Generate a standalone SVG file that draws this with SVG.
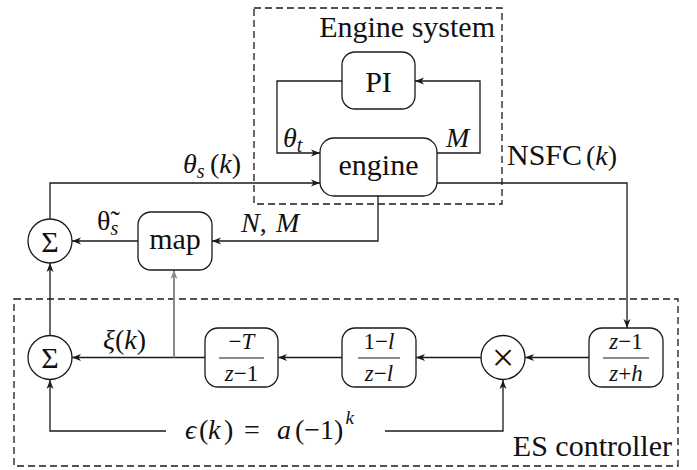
<svg xmlns="http://www.w3.org/2000/svg" width="697" height="470" viewBox="0 0 697 470">
  <style>
    .frame { fill: none; stroke: #1a1a1a; stroke-width: 1.3; stroke-dasharray: 7 4; }
    .blk { fill: #fff; stroke: #1a1a1a; stroke-width: 1.3; }
    .wire { fill: none; stroke: #1a1a1a; stroke-width: 1.3; }
    .wire.arr { marker-end: url(#tip); }
    .grey { fill: none; stroke: #8a8a8a; stroke-width: 2; marker-end: url(#tipGrey); }
    .bar { stroke: #1a1a1a; stroke-width: 1.1; }
    text { fill: #111; }
    .t30 { font-size: 30px; }
    .lbl { font-size: 28px; }
    .frac { font-size: 23px; text-anchor: middle; }
    .i { font-style: italic; }
    .mid { text-anchor: middle; }
    .end { text-anchor: end; }
  </style>
  <defs>
    <marker id="tip" viewBox="-10 -5 11 10" markerWidth="11" markerHeight="10" refX="0" refY="0" orient="auto" markerUnits="userSpaceOnUse">
      <path d="M0,0 L-9,-3.5 L-6.5,0 L-9,3.5 Z" fill="#1a1a1a"/>
    </marker>
    <marker id="tipGrey" viewBox="-10 -5 11 10" markerWidth="11" markerHeight="10" refX="0" refY="0" orient="auto" markerUnits="userSpaceOnUse">
      <path d="M0,0 L-9,-3.5 L-6.5,0 L-9,3.5 Z" fill="#8a8a8a"/>
    </marker>
  </defs>

  <g font-family="'Liberation Serif', 'Times New Roman', serif">
  <!-- subsystem frames -->
  <g id="engine-system">
    <rect class="frame" x="254" y="8" width="248" height="196"/>
    <text class="t30 end" x="495" y="37">Engine system</text>
  </g>
  <g id="es-controller">
    <rect class="frame" x="14" y="299" width="664" height="167"/>
    <text class="t30 end" x="672" y="456">ES controller</text>
  </g>

  <!-- connectors -->
  <g id="connectors">
    <path class="wire arr" d="M342,81 H277 V153 H320"/>
    <path class="wire arr" d="M437,153 H480 V81 H415"/>
    <path class="wire arr" d="M50,219 V183 H320"/>
    <path class="wire arr" d="M437,183 H627 V328"/>
    <path class="wire arr" d="M378,196 V241 H212"/>
    <path class="wire arr" d="M138,241 H72"/>
    <path class="wire arr" d="M50,336 V263"/>
    <path class="wire arr" d="M589,357.5 H525"/>
    <path class="wire arr" d="M481,357.5 H416"/>
    <path class="wire arr" d="M342,357.5 H278"/>
    <path class="wire arr" d="M205,357.5 H72"/>
    <path class="grey" d="M174,357.5 V270"/>
    <path class="wire arr" d="M166,431 H50 V380"/>
    <path class="wire arr" d="M385,431 H503 V380"/>

    <!-- signal labels -->
    <text class="lbl" x="283" y="147"><tspan class="i">θ</tspan><tspan class="i" font-size="20" dy="5">t</tspan></text>
    <text class="lbl i" x="446" y="147">M</text>
    <text class="lbl" x="183" y="173"><tspan class="i">θ</tspan><tspan class="i" font-size="20" dy="5">s</tspan><tspan dy="-5" x="210">(</tspan><tspan class="i">k</tspan>)</text>
    <text class="lbl" x="507" y="165"><tspan font-size="30">NSFC</tspan><tspan x="586">(</tspan><tspan class="i">k</tspan>)</text>
    <text class="lbl" x="97" y="230">θ̃<tspan class="i" font-size="20" dy="5">s</tspan></text>
    <text class="lbl i" x="241" y="232">N<tspan font-style="normal">,</tspan><tspan x="276">M</tspan></text>
    <text class="lbl" x="103" y="349"><tspan class="i">ξ</tspan>(<tspan class="i">k</tspan>)</text>
    <text class="lbl" y="439"><tspan x="185" class="i">ϵ</tspan><tspan x="199">(</tspan><tspan x="208" class="i">k</tspan><tspan x="224">)</tspan><tspan x="244">=</tspan><tspan x="277" class="i">a</tspan><tspan x="295">(−1)</tspan><tspan dx="2" y="424" class="i" font-size="19">k</tspan></text>
  </g>

  <!-- blocks -->
  <g id="pi">
    <rect class="blk" x="342" y="52" width="73" height="57" rx="13"/>
    <text class="t30 mid" x="378.5" y="92">PI</text>
  </g>
  <g id="engine">
    <rect class="blk" x="320" y="138" width="117" height="58" rx="14"/>
    <text class="t30 mid" x="378.5" y="175">engine</text>
  </g>
  <g id="map">
    <rect class="blk" x="138" y="212" width="74" height="58" rx="13"/>
    <text class="t30 mid" x="175" y="249">map</text>
  </g>
  <g id="sum-top">
    <circle class="blk" cx="50" cy="241" r="22"/>
    <text class="t30 mid" x="50" y="252">Σ</text>
  </g>
  <g id="sum-bottom">
    <circle class="blk" cx="50" cy="357.5" r="22"/>
    <text class="t30 mid" x="50" y="368">Σ</text>
  </g>
  <g id="integrator">
    <rect class="blk" x="205" y="328" width="73" height="59" rx="13"/>
    <text class="frac" x="241.5" y="349">−<tspan class="i">T</tspan></text>
    <line class="bar" x1="219" y1="358" x2="264" y2="358"/>
    <text class="frac" x="241.5" y="381"><tspan class="i">z</tspan>−1</text>
  </g>
  <g id="lowpass">
    <rect class="blk" x="342" y="328" width="74" height="59" rx="13"/>
    <text class="frac" x="379" y="349">1−<tspan class="i">l</tspan></text>
    <line class="bar" x1="358" y1="358" x2="400" y2="358"/>
    <text class="frac" x="379" y="381"><tspan class="i">z</tspan>−<tspan class="i">l</tspan></text>
  </g>
  <g id="multiplier">
    <circle class="blk" cx="503" cy="357.5" r="22"/>
    <text class="mid" x="503" y="371" font-size="40">×</text>
  </g>
  <g id="highpass">
    <rect class="blk" x="589" y="328" width="74" height="59" rx="13"/>
    <text class="frac" x="626" y="349"><tspan class="i">z</tspan>−1</text>
    <line class="bar" x1="603" y1="358" x2="649" y2="358"/>
    <text class="frac" x="626" y="381"><tspan class="i">z</tspan>+<tspan class="i">h</tspan></text>
  </g>
  </g>
</svg>
